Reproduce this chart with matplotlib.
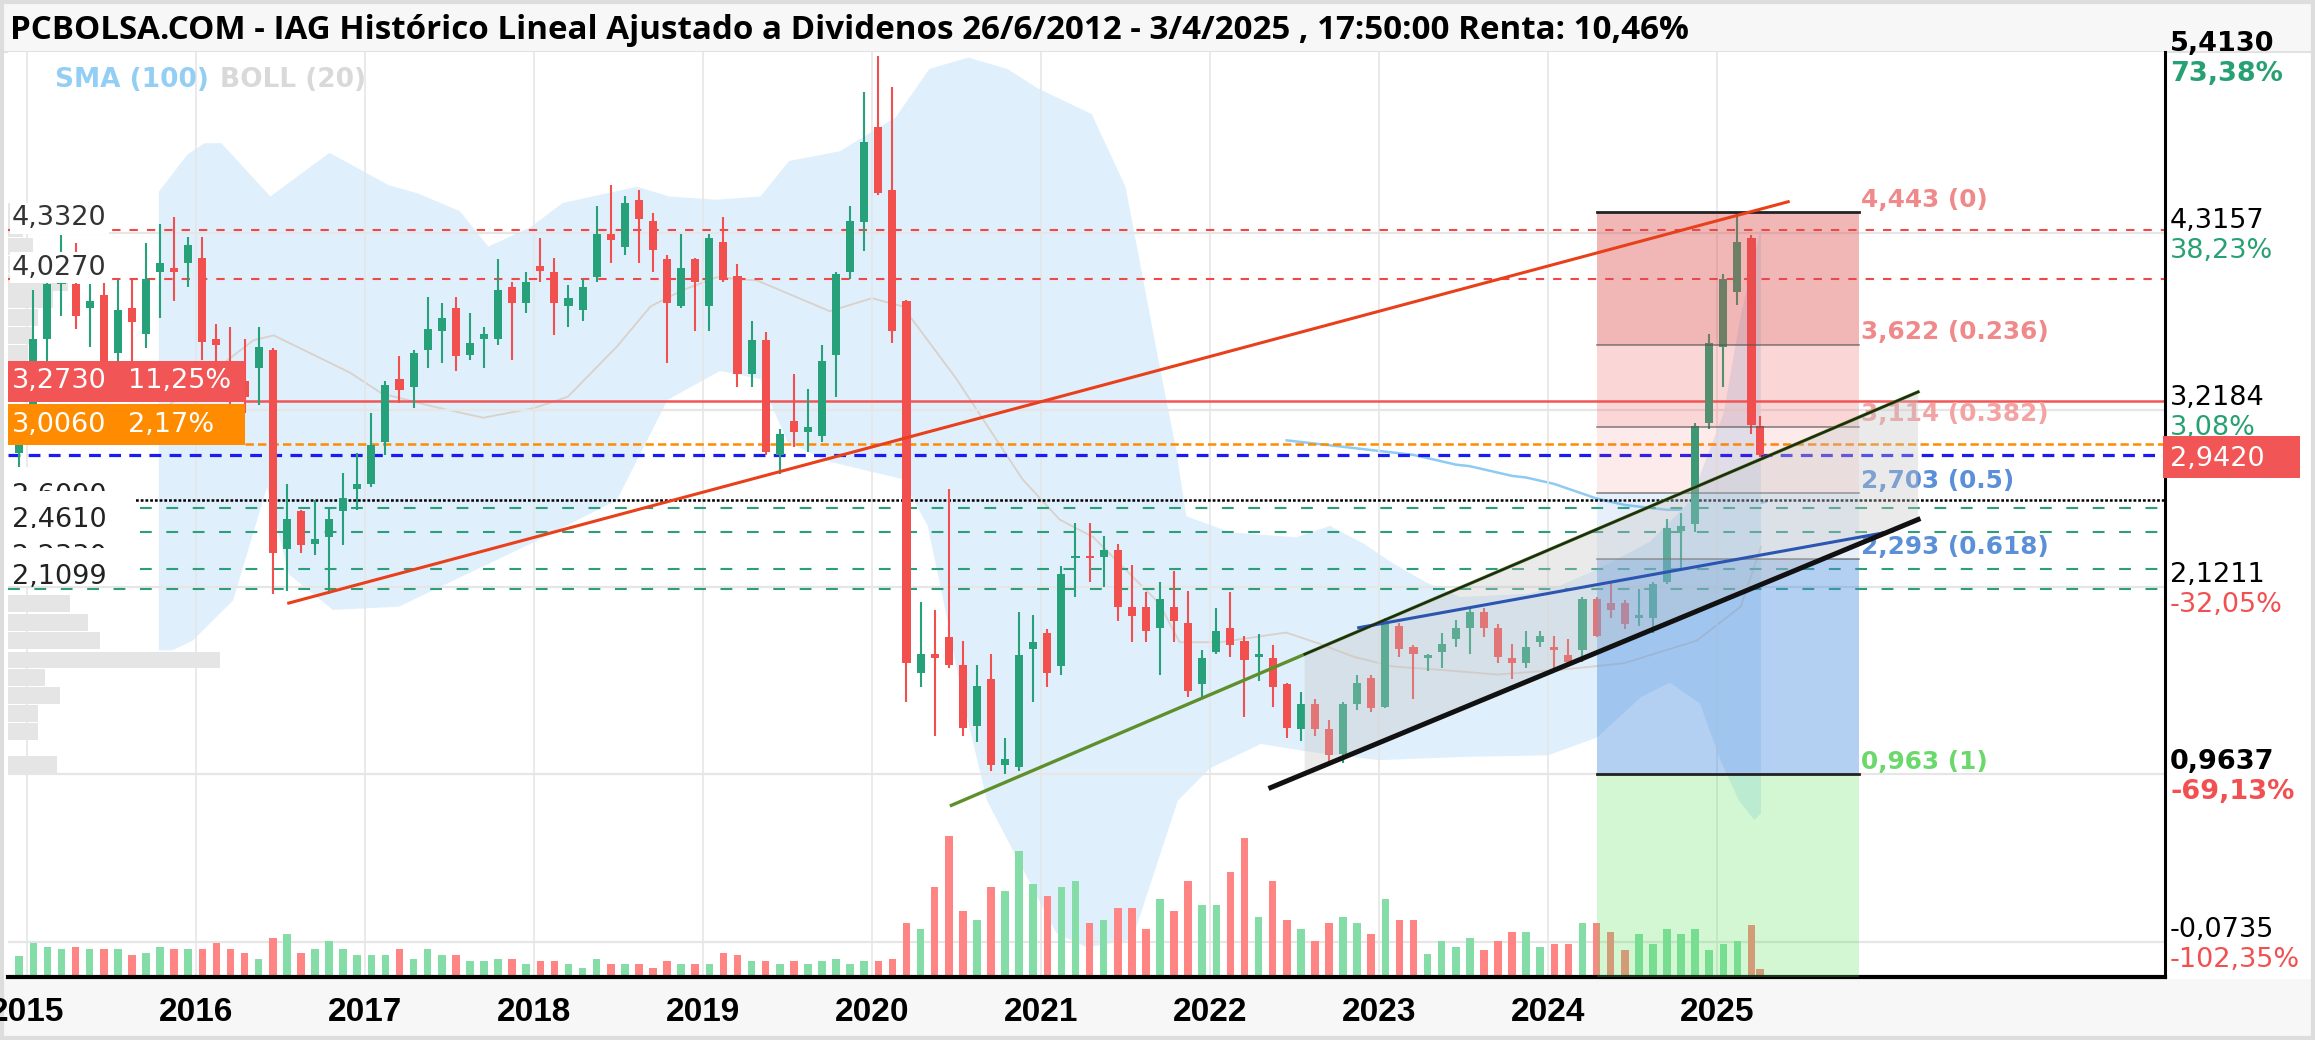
import numpy as np
import pandas as pd
import matplotlib
matplotlib.use("Agg")
import matplotlib.pyplot as plt
from matplotlib.patches import Rectangle, Polygon
from matplotlib.transforms import blended_transform_factory

plt.rcParams['lines.scale_dashes'] = False

# ---------------- data ----------------
first_month = "2014-12"
last_trade_day = 3   # 3/4/2025: last (partial) candle placed at its date

opens = [2.95,
         3.22, 3.66, 4.00, 4.00, 3.85, 3.93, 3.57, 3.85, 3.69, 4.07, 4.10, 4.13,
         4.16, 3.66, 3.45, 3.40, 3.48, 3.59, 2.36, 2.59, 2.39, 2.43, 2.59, 2.73,
         2.76, 3.02, 3.41, 3.36, 3.59, 3.71, 3.85, 3.56, 3.66, 3.66, 3.98, 3.88,
         4.11, 4.07, 3.86, 3.84, 4.04, 4.31, 4.23, 4.52, 4.39, 4.15, 3.86, 4.15,
         3.86, 4.26, 4.05, 3.44, 3.65, 2.94, 3.15, 3.08, 3.06, 3.56, 4.07, 4.38,
         4.97, 4.58, 3.89, 1.59, 1.71, 1.81, 1.64, 1.26, 1.55, 1.02, 1.01, 1.74,
         1.84, 1.63, 2.30, 2.31, 2.31, 2.35, 2.00, 2.00, 1.87, 2.00, 1.90, 1.52,
         1.72, 1.87, 1.79, 1.69, 1.68, 1.52, 1.24, 1.40, 1.24, 1.09, 1.40, 1.56,
         1.38, 1.88, 1.75, 1.68, 1.72, 1.80, 1.87, 1.97, 1.87, 1.68, 1.65, 1.78,
         1.75, 1.70, 1.73, 2.05, 2.02, 2.02, 1.93, 1.93, 2.15, 2.47, 2.51, 3.14,
         3.61, 3.95, 4.28, 3.12]
highs = [3.20,
         3.96, 4.03, 4.30, 4.25, 4.00, 4.01, 4.02, 4.02, 4.25, 4.37, 4.41, 4.29,
         4.29, 3.75, 3.73, 3.66, 3.73, 3.60, 2.76, 2.60, 2.66, 2.61, 2.83, 2.95,
         3.20, 3.40, 3.55, 3.59, 3.92, 3.88, 3.92, 3.82, 3.73, 4.15, 4.01, 4.07,
         4.28, 4.16, 3.99, 4.03, 4.48, 4.61, 4.54, 4.58, 4.44, 4.18, 4.31, 4.16,
         4.31, 4.41, 4.12, 3.77, 3.70, 3.10, 3.44, 3.35, 3.62, 4.07, 4.48, 5.19,
         5.413, 5.22, 3.90, 2.03, 1.98, 2.73, 1.79, 1.64, 1.71, 1.19, 1.97, 1.95,
         1.86, 2.25, 2.52, 2.52, 2.44, 2.39, 2.26, 2.09, 2.15, 2.22, 2.10, 1.73,
         1.99, 2.09, 1.82, 1.83, 1.76, 1.53, 1.47, 1.43, 1.30, 1.41, 1.58, 1.58,
         1.93, 1.90, 1.76, 1.71, 1.84, 1.92, 1.99, 1.99, 1.89, 1.77, 1.85, 1.85,
         1.82, 1.80, 2.06, 2.06, 2.15, 2.04, 2.11, 2.15, 2.54, 2.58, 3.14, 3.69,
         4.06, 4.443, 4.30, 3.18]
lows = [2.86,
        3.10, 3.50, 3.80, 3.72, 3.61, 3.35, 3.50, 3.50, 3.60, 3.79, 3.89, 3.98,
        3.53, 3.35, 3.25, 3.20, 3.25, 2.08, 2.10, 2.33, 2.32, 2.08, 2.38, 2.60,
        2.74, 2.94, 3.26, 3.23, 3.48, 3.51, 3.46, 3.53, 3.48, 3.62, 3.53, 3.82,
        4.01, 3.68, 3.73, 3.77, 4.01, 4.13, 4.18, 4.13, 4.07, 3.51, 3.85, 3.71,
        3.71, 4.01, 3.36, 3.36, 2.94, 2.82, 2.99, 2.96, 3.02, 3.30, 4.03, 4.20,
        4.55, 3.63, 1.41, 1.50, 1.20, 1.62, 1.20, 1.16, 0.98, 0.9637, 0.98, 1.41,
        1.50, 1.58, 2.06, 2.15, 2.12, 1.91, 1.78, 1.78, 1.58, 1.78, 1.44, 1.44,
        1.71, 1.69, 1.32, 1.54, 1.38, 1.19, 1.17, 1.20, 1.04, 1.03, 1.36, 1.35,
        1.37, 1.69, 1.43, 1.60, 1.62, 1.75, 1.71, 1.81, 1.65, 1.55, 1.62, 1.75,
        1.61, 1.63, 1.66, 1.81, 1.93, 1.86, 1.88, 1.84, 2.14, 2.23, 2.46, 3.10,
        3.36, 3.87, 3.07, 2.93]
closes = [3.10,
          3.66, 4.00, 4.04, 3.80, 3.89, 3.45, 3.84, 3.76, 4.03, 4.13, 4.07, 4.24,
          3.64, 3.62, 3.35, 3.30, 3.61, 2.33, 2.54, 2.38, 2.42, 2.54, 2.67, 2.76,
          3.00, 3.37, 3.34, 3.57, 3.72, 3.79, 3.55, 3.63, 3.69, 3.96, 3.88, 4.01,
          4.08, 3.88, 3.91, 3.98, 4.31, 4.27, 4.50, 4.40, 4.21, 3.88, 4.10, 4.01,
          4.28, 4.02, 3.44, 3.65, 2.96, 3.07, 3.08, 3.11, 3.52, 4.06, 4.39, 4.88,
          4.56, 3.71, 1.65, 1.71, 1.68, 1.64, 1.25, 1.51, 1.02, 1.06, 1.70, 1.78,
          1.59, 2.20, 2.31, 2.30, 2.35, 2.00, 1.94, 1.85, 2.05, 1.91, 1.48, 1.68,
          1.85, 1.76, 1.67, 1.70, 1.50, 1.25, 1.40, 1.24, 1.08, 1.40, 1.53, 1.37,
          1.90, 1.74, 1.71, 1.70, 1.77, 1.87, 1.97, 1.87, 1.69, 1.65, 1.75, 1.82,
          1.73, 1.66, 2.05, 1.82, 1.98, 1.89, 1.95, 2.14, 2.49, 2.50, 3.12, 3.63,
          4.03, 4.26, 3.1222, 2.942]
volumes = [21,
           34, 30, 28, 30, 28, 28, 28, 22, 24, 30, 28, 28,
           28, 34, 28, 24, 18, 39, 43, 24, 28, 36, 28, 22,
           22, 22, 28, 18, 28, 22, 22, 16, 16, 18, 18, 13,
           16, 16, 13, 9, 18, 13, 13, 13, 9, 16, 13, 13,
           13, 24, 22, 16, 16, 13, 16, 13, 16, 18, 13, 16,
           16, 18, 54, 48, 90, 141, 66, 57, 90, 86, 126, 93,
           81, 90, 96, 54, 57, 69, 69, 48, 78, 66, 96, 72,
           72, 105, 139, 60, 96, 57, 48, 36, 54, 60, 54, 43,
           78, 57, 57, 23, 36, 30, 39, 27, 36, 45, 45, 30,
           33, 33, 54, 54, 45, 27, 43, 33, 48, 43, 48, 27,
           33, 36, 52, 8]
vol_axis_max = 925

years = list(range(2015, 2026))
grid_levels = [4.3157, 3.2184, 2.1211, 0.9637, -0.0735]
axis_levels = [5.4130, 4.3157, 3.2184, 2.1211, 0.9637, -0.0735]
axis_texts = ["5,4130", "4,3157", "3,2184", "2,1211", "0,9637", "-0,0735"]
axis_pcts = ["73,38%", "38,23%", "3,08%", "-32,05%", "-69,13%", "-102,35%"]
axis_bold = [True, False, False, False, True, False]
last_price = 2.9420

resist_levels = [4.3320, 4.0270]
support_levels = [2.6090, 2.4610, 2.2330, 2.1099]
dotted_level = 2.66
alert_levels = [3.2730, 3.0060]
alert_pcts = ["11,25%", "2,17%"]

fib_high, fib_low = 4.443, 0.9634
fib_ratios = [0, 0.236, 0.382, 0.5, 0.618, 1]
fib_x0, fib_x1 = 2024.29, 2025.84

red_line_x, red_line_y = [2016.54, 2025.43], [2.02, 4.51]
green_line_x, green_line_y = [2020.47, 2026.19], [0.77, 3.33]
chan_low_x, chan_low_y = [2022.36, 2026.19], [0.88, 2.54]
blue_line_x, blue_line_y = [2022.88, 2026.00], [1.87, 2.46]
channel_x0, channel_x1 = 2022.56, 2026.19

boll_up_x = [2015.78, 2015.95, 2016.05, 2016.15, 2016.44, 2016.79, 2017.14, 2017.31,
             2017.56, 2017.73, 2017.98, 2018.17, 2018.61, 2018.80, 2019.08, 2019.34,
             2019.51, 2019.81, 2020.14, 2020.34, 2020.57, 2020.80, 2020.98, 2021.30,
             2021.50, 2021.70, 2021.80, 2021.86, 2022.12, 2022.51, 2022.71, 2022.91,
             2023.08, 2023.28, 2023.48, 2023.88, 2024.07, 2024.29, 2024.60, 2024.84,
             2025.04, 2025.14, 2025.26]
boll_up = [4.57, 4.80, 4.87, 4.87, 4.54, 4.81, 4.61, 4.56,
           4.45, 4.23, 4.35, 4.50, 4.60, 4.54, 4.52, 4.54,
           4.76, 4.82, 5.03, 5.33, 5.40, 5.33, 5.21, 5.05,
           4.60, 3.50, 2.97, 2.56, 2.46, 2.43, 2.50, 2.39,
           2.27, 2.15, 2.06, 2.08, 2.13, 2.23, 2.40, 2.65,
           3.20, 3.80, 4.35]
boll_lo_x = [2015.78, 2015.86, 2015.98, 2016.22, 2016.42, 2016.55, 2016.81, 2017.20,
             2017.60, 2018.00, 2018.49, 2018.79, 2019.10, 2019.34, 2019.50, 2019.74,
             2019.94, 2020.18, 2020.33, 2020.45, 2020.53, 2020.68, 2021.09, 2021.27,
             2021.54, 2021.81, 2022.00, 2022.30, 2022.60, 2023.00, 2023.50, 2024.00,
             2024.29, 2024.55, 2024.72, 2024.90, 2025.02, 2025.13, 2025.22, 2025.26]
boll_lo = [1.73, 1.73, 1.79, 2.04, 2.74, 2.20, 1.98, 2.00,
           2.20, 2.40, 2.66, 3.28, 3.46, 3.41, 3.02, 2.90,
           2.85, 2.79, 2.50, 1.90, 1.46, 0.80, -0.02, -0.11,
           -0.06, 0.80, 1.00, 1.15, 1.10, 1.05, 1.07, 1.08,
           1.19, 1.44, 1.53, 1.40, 1.05, 0.80, 0.68, 0.72]
boll_mid_x = [2015.78, 2016.34, 2016.46, 2016.91, 2017.10, 2017.40, 2017.70, 2018.00,
              2018.20, 2018.49, 2018.69, 2018.88, 2019.08, 2019.32, 2019.75, 2020.00,
              2020.18, 2020.50, 2020.89, 2021.11, 2021.31, 2021.50, 2021.70, 2021.82,
              2022.06, 2022.45, 2022.65, 2022.85, 2023.08, 2023.35, 2023.70, 2024.08,
              2024.45, 2024.88, 2025.14, 2025.26]
boll_mid = [3.20, 3.65, 3.68, 3.45, 3.32, 3.24, 3.17, 3.23,
            3.30, 3.61, 3.86, 3.96, 4.04, 4.02, 3.83, 3.91,
            3.86, 3.41, 2.79, 2.54, 2.43, 2.23, 2.02, 1.78,
            1.78, 1.84, 1.77, 1.69, 1.63, 1.61, 1.58, 1.61,
            1.65, 1.79, 2.00, 2.37]

sma_first_month = "2022-06"
sma100 = [3.03, 3.02, 3.01, 3.00, 2.99, 2.98, 2.97,
          2.96, 2.95, 2.94, 2.92, 2.90, 2.88, 2.87, 2.85, 2.83, 2.81, 2.80, 2.78,
          2.76, 2.73, 2.70, 2.67, 2.65, 2.63, 2.62, 2.61, 2.60, 2.60, 2.59, 2.59,
          2.59, 2.61, 2.63, 2.65]

vp_prices = [4.45, 4.34, 4.23, 4.12, 4.01, 3.90, 3.79, 3.68, 3.57,
             2.02, 1.90, 1.79, 1.67, 1.56, 1.45, 1.34, 1.23, 1.02]
vp_sizes = [10, 15, 25, 40, 60, 45, 30, 25, 20,
            62, 80, 92, 212, 37, 52, 30, 30, 49]

title = ("PCBOLSA.COM - IAG Histórico Lineal Ajustado a Dividenos 26/6/2012 - 3/4/2025 , "
         "17:50:00 Renta: 10,46%")

# ---------------- layout ----------------
W, H = 2315, 1040
fig = plt.figure(figsize=(W / 100, H / 100), dpi=100)
fig.patch.set_facecolor("white")

def FX(px):
    return px / W

def FY(py):
    return 1 - py / H

# frame pieces (behind the axes)
fig.patches.append(Rectangle((FX(4), FY(52)), FX(2308), 48 / H, transform=fig.transFigure,
                             facecolor="#f7f7f7", edgecolor="none", zorder=-2))
fig.patches.append(Rectangle((FX(4), FY(1036)), FX(2308), 57 / H, transform=fig.transFigure,
                             facecolor="#f7f7f7", edgecolor="none", zorder=-2))
fig.patches.append(Rectangle((FX(2), FY(1038)), FX(2311), 1036 / H, transform=fig.transFigure,
                             facecolor="none", edgecolor="#dddddd", lw=3, zorder=-1))
fig.lines.append(plt.Line2D([FX(4), FX(2312)], [FY(52), FY(52)], transform=fig.transFigure,
                            color="#e2e2e2", lw=1.5, zorder=-1))

ax = fig.add_axes([FX(8), FY(977), FX(2165 - 8), (977 - 52) / H])
ax.set_facecolor("white")
XL = (2014.8876, 2027.651)
YL = (-0.2929, 5.4347)
ax.set_xlim(*XL)
ax.set_ylim(*YL)
ax.set_xticks([])
ax.set_yticks([])
for s in ("left", "top"):
    ax.spines[s].set_visible(False)
ax.spines["right"].set_color("black")
ax.spines["right"].set_linewidth(2.2)
ax.spines["bottom"].set_color("black")
ax.spines["bottom"].set_linewidth(3)

T_xaxes_ydata = blended_transform_factory(ax.transAxes, ax.transData)
T_xdata_yaxes = blended_transform_factory(ax.transData, ax.transAxes)
PX = 1 / 161.5   # price units per pixel
YR = 1 / 169.0   # years per pixel

# candle positions
months = pd.period_range(first_month, periods=len(opens), freq="M")
xs = np.array([m.year + (m.month - 1 + 0.45) / 12 for m in months])
xs[-1] = months[-1].year + (months[-1].month - 1 + (last_trade_day - 1) / 30) / 12
o = np.array(opens); h = np.array(highs); l = np.array(lows); c = np.array(closes)
up = c >= o

# ---------------- background layers ----------------
band_poly = list(zip(boll_up_x, boll_up)) + list(zip(boll_lo_x[::-1], boll_lo[::-1]))
ax.add_patch(Polygon(band_poly, closed=True, facecolor="#dfeffc", edgecolor="none", zorder=0.5))
ax.plot(boll_mid_x, boll_mid, color="#d9d1ca", lw=1.3, zorder=0.6)

sma_months = pd.period_range(sma_first_month, periods=len(sma100), freq="M")
sma_x = [m.year + (m.month - 1 + 0.45) / 12 for m in sma_months]
ax.plot(sma_x, sma100, color="#8ecbf3", lw=1.8, zorder=0.4)

ax.vlines(years, YL[0], YL[1], color="#e6e6e6", lw=1.2, zorder=0.7)
ax.hlines(grid_levels, XL[0], XL[1], color="#e6e6e6", lw=1.6, zorder=0.7)

ax.barh(vp_prices, np.array(vp_sizes) * YR, height=0.105, left=XL[0],
        color="#e5e5e5", zorder=0.8, linewidth=0)

for x, v, u in zip(xs, volumes, up):
    ax.add_patch(Rectangle((x - 0.0225, 0), 0.045, v / vol_axis_max, transform=T_xdata_yaxes,
                           facecolor="#84dca6" if u else "#ff8585", edgecolor="none", zorder=1))

# ---------------- level lines ----------------
for lv in resist_levels:
    ax.plot(XL, [lv, lv], color="#f04848", lw=1.5, dashes=(6, 6.5), zorder=2)
for lv in support_levels:
    ax.plot(XL, [lv, lv], color="#2e9e7a", lw=1.5, dashes=(8.5, 10.5), zorder=2)
ax.plot(XL, [dotted_level] * 2, color="black", lw=1.8, dashes=(2, 1.4), zorder=2)
box_end = XL[0] + (245 - 8) * YR
ax.plot([box_end, XL[1]], [alert_levels[0]] * 2, color="#f25555", lw=1.8, zorder=2)
ax.plot([box_end, XL[1]], [alert_levels[1]] * 2, color="#ff8c00", lw=1.8, dashes=(6, 3), zorder=2)
ax.plot(XL, [last_price] * 2, color="#1c1cf0", lw=2.3, dashes=(8.5, 6), zorder=2)

# ---------------- candles ----------------
col = np.where(up, "#26a17a", "#f24f4f")
ax.vlines(xs, l, h, colors=col, lw=1.5, zorder=3)
body_bot = np.minimum(o, c)
body_h = np.maximum(np.abs(c - o), 0.015)
ax.bar(xs, body_h, bottom=body_bot, width=0.048, color=col, linewidth=0, zorder=3.1)

# ---------------- fibonacci ----------------
fib_lv = [fib_high - r * (fib_high - fib_low) for r in fib_ratios]
zone_style = [("#dc4c4c", 0.40), ("#f05050", 0.23), ("#f05050", 0.11),
              ("#4a8fe0", 0.13), ("#4a8fe0", 0.42)]
for (a, b), (fc, al) in zip(zip(fib_lv[:-1], fib_lv[1:]), zone_style):
    ax.add_patch(Rectangle((fib_x0, b), fib_x1 - fib_x0, a - b, facecolor=fc, alpha=al,
                           edgecolor="none", zorder=4))
ax.add_patch(Rectangle((fib_x0, YL[0]), fib_x1 - fib_x0, fib_lv[-1] - YL[0], facecolor="#55e055",
                       alpha=0.26, edgecolor="none", zorder=4))
for r, lv in zip(fib_ratios, fib_lv):
    if r in (0, 1):
        ax.plot([fib_x0, fib_x1], [lv, lv], color="#222222", lw=2.0, zorder=4.2)
    else:
        ax.plot([fib_x0, fib_x1], [lv, lv], color="#555555", lw=1.1, alpha=0.75, zorder=4.2)
fib_cols = ["#f08a8a", "#f08a8a", "#f4a3a3", "#5b8fd8", "#5b8fd8", "#6ad86a"]
for r, lv, fc in zip(fib_ratios, fib_lv, fib_cols):
    txt = f"{lv:.3f}".replace(".", ",") + f" ({r})"
    ax.annotate(txt, xy=(fib_x1 + 0.015, lv), xytext=(0, 4), textcoords="offset points",
                ha="left", va="baseline", fontsize=17.8, fontweight="bold", color=fc,
                family="DejaVu Sans", zorder=4.3)

# ---------------- channel & trend lines ----------------
def line_at(xp, yp, x):
    return yp[0] + (yp[1] - yp[0]) * (x - xp[0]) / (xp[1] - xp[0])

chan_poly = [(channel_x0, line_at(chan_low_x, chan_low_y, channel_x0)),
             (channel_x1, line_at(chan_low_x, chan_low_y, channel_x1)),
             (channel_x1, line_at(green_line_x, green_line_y, channel_x1)),
             (channel_x0, line_at(green_line_x, green_line_y, channel_x0))]
ax.add_patch(Polygon(chan_poly, closed=True, facecolor="#c4c4c4", alpha=0.34, edgecolor="none",
                     zorder=4.5))
ax.plot(red_line_x, red_line_y, color="#e8401a", lw=2.2, zorder=5, solid_capstyle="butt")
ax.plot(green_line_x, green_line_y, color="#5e8f2a", lw=2.4, zorder=5)
ax.plot([channel_x0, green_line_x[1]],
        [line_at(green_line_x, green_line_y, channel_x0), green_line_y[1]],
        color="#1f2a14", lw=1.7, zorder=5.1)
ax.plot(blue_line_x, blue_line_y, color="#2b55b0", lw=2.2, zorder=5)
ax.plot(chan_low_x, chan_low_y, color="#111111", lw=3.6, zorder=5.2)

# ---------------- left labels ----------------
lbl_font = dict(fontsize=19.5, family="DejaVu Sans")
xl_lab = (12 - 8) / 2157
for lv in resist_levels:
    ax.annotate(f"{lv:.4f}".replace(".", ","), xy=(xl_lab, lv), xycoords=T_xaxes_ydata,
                xytext=(0, 3.4), textcoords="offset points", va="baseline", ha="left",
                color="#333333", zorder=6,
                bbox=dict(facecolor="white", edgecolor="none", pad=1.5), **lbl_font)
# support labels: each white label background hides the lower part of the label above it
z = 6.0
for lv in support_levels:
    left = XL[0] + 0.5 * YR
    width = ((125 if lv == support_levels[0] else 135) - 8) * YR
    ax.add_patch(Rectangle((left, lv + 3 * PX), width, 38 * PX, facecolor="white",
                           edgecolor="none", zorder=z))
    ax.annotate(f"{lv:.4f}".replace(".", ","), xy=(xl_lab, lv), xycoords=T_xaxes_ydata,
                xytext=(0, 3.6), textcoords="offset points", va="baseline", ha="left",
                color="#222222", zorder=z + 0.01, **lbl_font)
    z += 0.02

# alert boxes
box_cols = ["#f25555", "#ff8c00"]
for lv, pct, bc in zip(alert_levels, alert_pcts, box_cols):
    ax.add_patch(Rectangle((XL[0] - 0.01, lv - 0.006), box_end - XL[0] + 0.01, 0.255,
                           facecolor=bc, edgecolor="none", zorder=6.2))
    ymid = lv - 0.006 + 0.1275
    ax.annotate(f"{lv:.4f}".replace(".", ","), xy=(XL[0] + (12 - 8) * YR, ymid),
                va="center", ha="left", color="white", zorder=6.3, **lbl_font)
    ax.annotate(pct, xy=(XL[0] + (128 - 8) * YR, ymid), va="center", ha="left",
                color="white", zorder=6.3, **lbl_font)

# ---------------- right axis labels ----------------
xr = 1 + (2170 - 2165) / 2157
for lv, t, p, b in zip(axis_levels, axis_texts, axis_pcts, axis_bold):
    w = "bold" if b else "normal"
    ax.annotate(t, xy=(xr, lv), xycoords=T_xaxes_ydata, xytext=(0, 3.4),
                textcoords="offset points", va="baseline", ha="left", color="black",
                fontweight=w, annotation_clip=False, **lbl_font)
    pc = "#27a073" if p[0] != "-" else "#f25050"
    ax.annotate(p, xy=(xr, lv), xycoords=T_xaxes_ydata, xytext=(0, -18.2),
                textcoords="offset points", va="baseline", ha="left", color=pc,
                fontweight=w, annotation_clip=False, **lbl_font)
box_x0 = (2163 - 8) / 2157
box_x1 = (2300 - 8) / 2157
ax.add_patch(Rectangle((box_x0, last_price - 23.5 * PX), box_x1 - box_x0, 42 * PX,
                       transform=T_xaxes_ydata, facecolor="#f25555", edgecolor="none",
                       clip_on=False, zorder=7))
ax.annotate(f"{last_price:.4f}".replace(".", ","), xy=(xr, last_price), xycoords=T_xaxes_ydata,
            xytext=(0, -8.5), textcoords="offset points", va="baseline", ha="left",
            color="white", annotation_clip=False, zorder=8, **lbl_font)

# ---------------- x labels ----------------
for y in years:
    ax.text(y, -(1021 - 977) / 925, str(y), transform=T_xdata_yaxes, ha="center",
            va="baseline", fontsize=24, fontweight="bold", family="Liberation Sans",
            color="black", clip_on=False, zorder=9)

# ---------------- title & legend ----------------
tt = fig.text(FX(10), FY(39), title, fontsize=21, fontweight="bold",
              family=["Open Sans", "DejaVu Sans"], va="baseline", ha="left", color="black")
fig.text(FX(55), FY(87), "SMA (100)", fontsize=19, fontweight="bold",
         family="DejaVu Sans", color="#93cff5", va="baseline", ha="left")
fig.text(FX(220), FY(87), "BOLL (20)", fontsize=19, fontweight="bold",
         family="DejaVu Sans", color="#d9d9d9", va="baseline", ha="left")

fig.canvas.draw()
rend = fig.canvas.get_renderer()
bw = tt.get_window_extent(renderer=rend).width
tt.set_fontsize(tt.get_fontsize() * 1676 / bw)

fig.savefig("out.png", dpi=100, facecolor="white")
